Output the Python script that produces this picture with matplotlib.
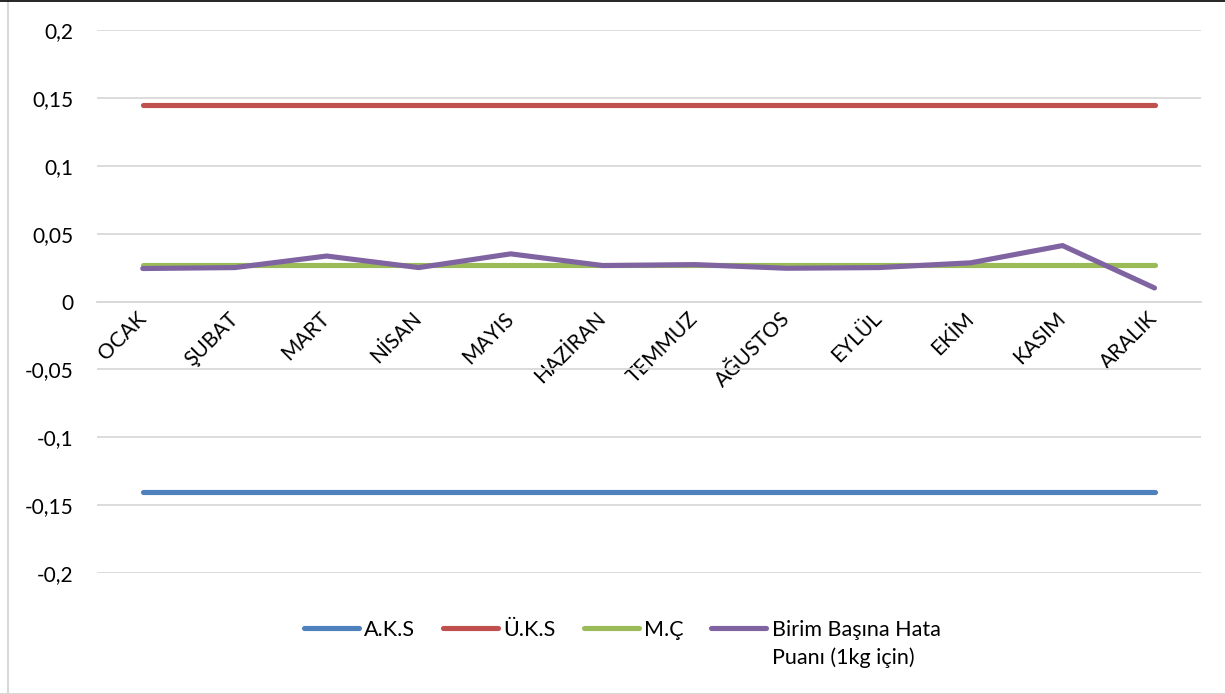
import matplotlib
matplotlib.use("Agg")
import matplotlib.pyplot as plt
from matplotlib.ticker import FuncFormatter, MultipleLocator
from matplotlib.lines import Line2D

months = ["OCAK", "ŞUBAT", "MART", "NİSAN", "MAYIS", "HAZİRAN",
          "TEMMUZ", "AĞUSTOS", "EYLÜL", "EKİM", "KASIM", "ARALIK"]
aks = [-0.14] * 12
uks = [0.145] * 12
mc = [0.027] * 12
hata = [0.0243, 0.025, 0.0335, 0.025, 0.0351, 0.0265,
        0.0272, 0.0245, 0.025, 0.0285, 0.0412, 0.0100]

series = [
    ("A.K.S", aks, "#4F81BD"),
    ("Ü.K.S", uks, "#C0504D"),
    ("M.Ç", mc, "#9BBB59"),
    ("Birim Başına Hata\nPuanı (1kg için)", hata, "#8064A2"),
]

plt.rcParams['font.family'] = ['Lato', 'DejaVu Sans']
plt.rcParams['font.size'] = 15

fig = plt.figure(figsize=(12.25, 6.94), dpi=100)
ax = fig.add_axes([0.079, 0.174, 0.901, 0.783])

x = list(range(len(months)))
for label, vals, color in series:
    ax.plot(x, vals, color=color, lw=3.7, label=label,
            solid_capstyle='round', solid_joinstyle='round', zorder=3)

ax.set_xlim(-0.5, len(months) - 0.5)
ax.set_ylim(-0.2, 0.2)
ax.yaxis.set_major_locator(MultipleLocator(0.05))
ax.yaxis.set_major_formatter(FuncFormatter(
    lambda v, p: ("%g" % round(v, 4)).replace(".", ",")))
ax.grid(axis='y', color='#d9d9d9', lw=1.3, zorder=0)
ax.set_axisbelow(True)

for s in ['top', 'right', 'left']:
    ax.spines[s].set_visible(False)
ax.spines['bottom'].set_position(('data', 0))
ax.spines['bottom'].set_color('#d9d9d9')
ax.spines['bottom'].set_linewidth(1.3)

ax.set_xticks(x)
ax.set_xticklabels(months, rotation=45, ha='right', va='center',
                   rotation_mode='anchor')
ax.tick_params(axis='x', length=0, pad=10, labelsize=15)
ax.tick_params(axis='y', length=0, pad=17, labelsize=15)

leg = fig.legend(loc='upper center', bbox_to_anchor=(0.508, 0.134), ncol=4,
                 frameon=False, handlelength=2.55, handletextpad=0.25,
                 columnspacing=1.3, fontsize=15.5)
for t in leg.get_texts():
    t.set_linespacing(1.45)
for ln in leg.get_lines():
    ln.set_linewidth(3.7)
    ln.set_solid_capstyle('round')
try:
    hb = leg._legend_handle_box
    hb.align = "top"
    for col in hb.get_children():
        for item in col.get_children():
            item.align = "top"
except Exception:
    pass

# chart frame edges
fig.add_artist(Line2D([7.5 / 1225, 7.5 / 1225], [0, 1], transform=fig.transFigure,
                      color='#d9d9d9', lw=1.5))
fig.add_artist(Line2D([0, 1], [0.5 / 694, 0.5 / 694], transform=fig.transFigure,
                      color='#d9d9d9', lw=1.5))
fig.add_artist(Line2D([0, 1], [1 - 0.5 / 694, 1 - 0.5 / 694], transform=fig.transFigure,
                      color='black', lw=1.2))

fig.savefig("out.png", dpi=100)
